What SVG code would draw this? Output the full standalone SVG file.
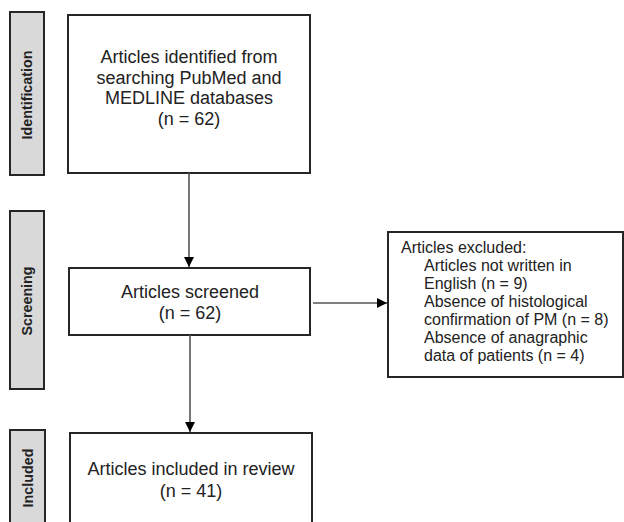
<svg xmlns="http://www.w3.org/2000/svg" width="624" height="522" viewBox="0 0 624 522">
<defs>
<style>
.phase{fill:#d9d9d9;stroke:#262626;stroke-width:2}
.box{fill:#fff;stroke:#262626;stroke-width:2}
.lbl{font-family:"Liberation Sans",Arial,sans-serif;font-size:14.3px;font-weight:bold;fill:#222;text-anchor:middle}
.t{font-family:"Liberation Sans",Arial,sans-serif;font-size:18px;fill:#222;text-anchor:middle}
.s{font-family:"Liberation Sans",Arial,sans-serif;font-size:16px;fill:#222}
.c{fill:none;stroke:#555;stroke-width:1.6}
</style>
<marker id="ah" viewBox="0 0 10 10" refX="10" refY="5" markerWidth="10" markerHeight="10" markerUnits="userSpaceOnUse" orient="auto">
<path d="M0,0 L10,5 L0,10 Z" fill="#000"/>
</marker>
</defs>
<rect width="624" height="522" fill="#fff"/>
<g id="phase-identification">
<rect class="phase" x="10" y="12" width="34" height="163"/>
<text class="lbl" transform="translate(32,95) rotate(-90)">Identification</text>
</g>
<g id="phase-screening">
<rect class="phase" x="10" y="211" width="34" height="178"/>
<text class="lbl" transform="translate(32,301) rotate(-90)">Screening</text>
</g>
<g id="phase-included">
<rect class="phase" x="10" y="430" width="35" height="100"/>
<text class="lbl" transform="translate(33,478) rotate(-90)">Included</text>
</g>
<g id="identified">
<rect class="box" x="68" y="15" width="242" height="158"/>
<text class="t" x="189" y="63">Articles identified from</text>
<text class="t" x="189" y="84">searching PubMed and</text>
<text class="t" x="189" y="104">MEDLINE databases</text>
<text class="t" x="189" y="125">(n = 62)</text>
</g>
<g id="screened">
<rect class="box" x="69" y="268" width="241" height="67"/>
<text class="t" x="190" y="298">Articles screened</text>
<text class="t" x="190" y="319">(n = 62)</text>
</g>
<g id="included">
<rect class="box" x="70" y="433" width="242" height="100"/>
<text class="t" x="191" y="475">Articles included in review</text>
<text class="t" x="191" y="497">(n = 41)</text>
</g>
<g id="excluded">
<rect class="box" x="388" y="232" width="235" height="145"/>
<text class="s" x="401" y="253">Articles excluded:</text>
<text class="s" x="424" y="271">Articles not written in</text>
<text class="s" x="424" y="289">English (n = 9)</text>
<text class="s" x="424" y="307">Absence of histological</text>
<text class="s" x="424" y="325">confirmation of PM (n = 8)</text>
<text class="s" x="424" y="343">Absence of anagraphic</text>
<text class="s" x="424" y="361">data of patients (n = 4)</text>
</g>
<g id="connectors">
<line class="c" x1="189" y1="173" x2="189" y2="267" marker-end="url(#ah)"/>
<line class="c" x1="190" y1="335" x2="190" y2="432" marker-end="url(#ah)"/>
<line class="c" x1="313" y1="303" x2="387" y2="303" marker-end="url(#ah)"/>
</g>
</svg>
